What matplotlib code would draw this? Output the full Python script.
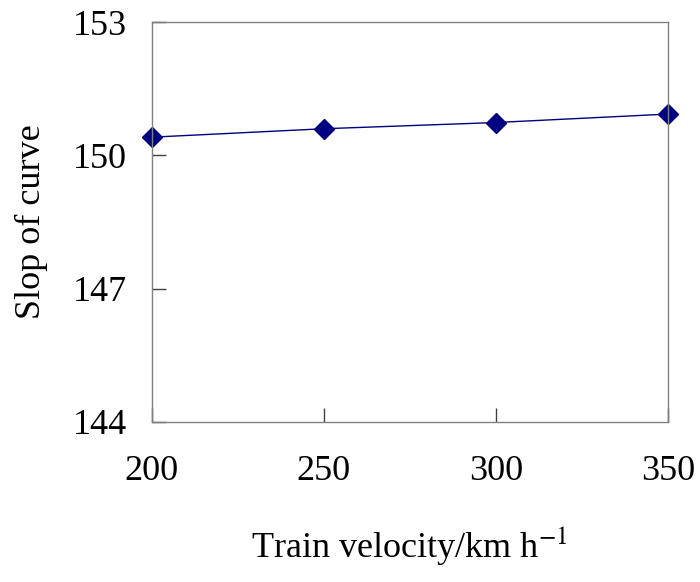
import matplotlib
matplotlib.use("Agg")
import matplotlib.pyplot as plt

# data
velocity = [200, 250, 300, 350]
slope = [150.41, 150.60, 150.74, 150.93]
y_ticks = [144, 147, 150, 153]

plt.rcParams['font.family'] = ['Liberation Serif', 'DejaVu Serif']
plt.rcParams['mathtext.fontset'] = 'stix'

fig = plt.figure(figsize=(7, 5.82), dpi=100)
ax = fig.add_axes([0.217, 0.275, 0.737, 0.687])

ax.plot(velocity, slope, color='#000080', lw=1, marker='D', ms=10,
        markerfacecolor='#000080', markeredgecolor='#000080', clip_on=False)

ax.set_xlim(200, 350)
ax.set_ylim(144, 153)
ax.set_xticks(velocity)
ax.set_yticks(y_ticks)

for s in ax.spines.values():
    s.set_color('#808080')
    s.set_linewidth(1)

ax.tick_params(axis='both', direction='in', length=10, width=1, color='#404040',
               labelsize=26)
ax.tick_params(axis='x', pad=24)
ax.tick_params(axis='y', pad=18)

ax.set_xlabel('Train velocity/km h$^{-1}$', fontsize=26, labelpad=26)
ax.set_ylabel('Slop of curve', fontsize=26, labelpad=18)

fig.savefig('out.png', dpi=100)
